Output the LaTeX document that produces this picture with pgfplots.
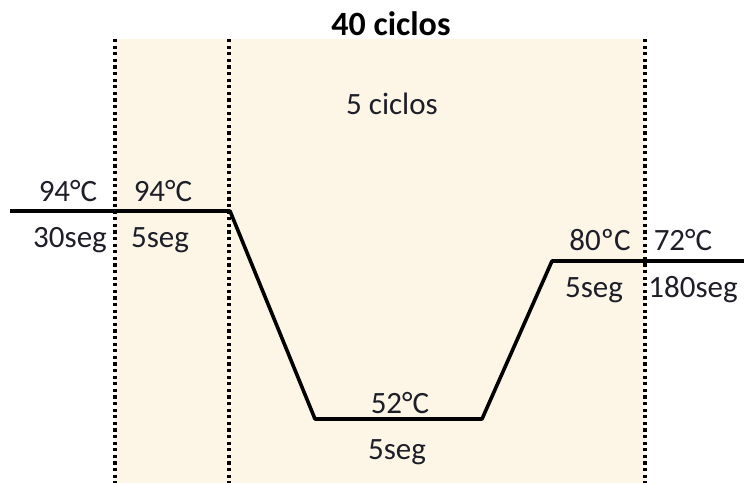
\documentclass[border=0pt]{standalone}
\usepackage{fontspec}
\setmainfont{Carlito}
\usepackage{pgfplots}
\pgfplotsset{compat=1.18}
\definecolor{cream}{HTML}{FDF6E7}
\definecolor{txt}{HTML}{1E1E28}
\tikzset{lbl/.style={font=\fontsize{31}{34}\selectfont, text=txt, inner sep=0pt}}
\begin{document}
\begin{tikzpicture}
\begin{axis}[
  width=744pt, height=483pt, scale only axis,
  xmin=0, xmax=744, ymin=0, ymax=483, y dir=reverse,
  hide axis, clip=true,
]
% shaded cycle region
\addplot[fill=cream, draw=none] coordinates {(115,39) (645,39) (645,483) (115,483)} -- cycle;
% dotted separators
\addplot[line width=3.4pt, dash pattern=on 3.2pt off 3.4pt, black] coordinates {(115,39) (115,483)};
\addplot[line width=3.4pt, dash pattern=on 3.2pt off 3.4pt, black] coordinates {(229,39) (229,483)};
\addplot[line width=3.4pt, dash pattern=on 3.2pt off 3.4pt, black] coordinates {(645,39) (645,483)};
% temperature profile
\addplot[line width=3.6pt, black, line join=round] coordinates {(10,211) (230,211) (315,419) (482,419) (552,261) (744,261)};
% labels
\node[lbl, font=\bfseries\fontsize{34}{36}\selectfont, text=black] at (axis cs:391,24) {40 ciclos};
\node[lbl] at (axis cs:392,104) {5 ciclos};
\node[lbl] at (axis cs:68,191) {94°C};
\node[lbl] at (axis cs:70,240) {30seg};
\node[lbl] at (axis cs:163,191) {94°C};
\node[lbl] at (axis cs:160,240) {5seg};
\node[lbl] at (axis cs:400,403) {52°C};
\node[lbl] at (axis cs:397,452) {5seg};
\node[lbl] at (axis cs:600,240) {80ºC};
\node[lbl] at (axis cs:683,240) {72°C};
\node[lbl] at (axis cs:594,290) {5seg};
\node[lbl] at (axis cs:693,290) {180seg};
\end{axis}
\useasboundingbox (current axis.south west) rectangle (current axis.north east);
\end{tikzpicture}
\end{document}
